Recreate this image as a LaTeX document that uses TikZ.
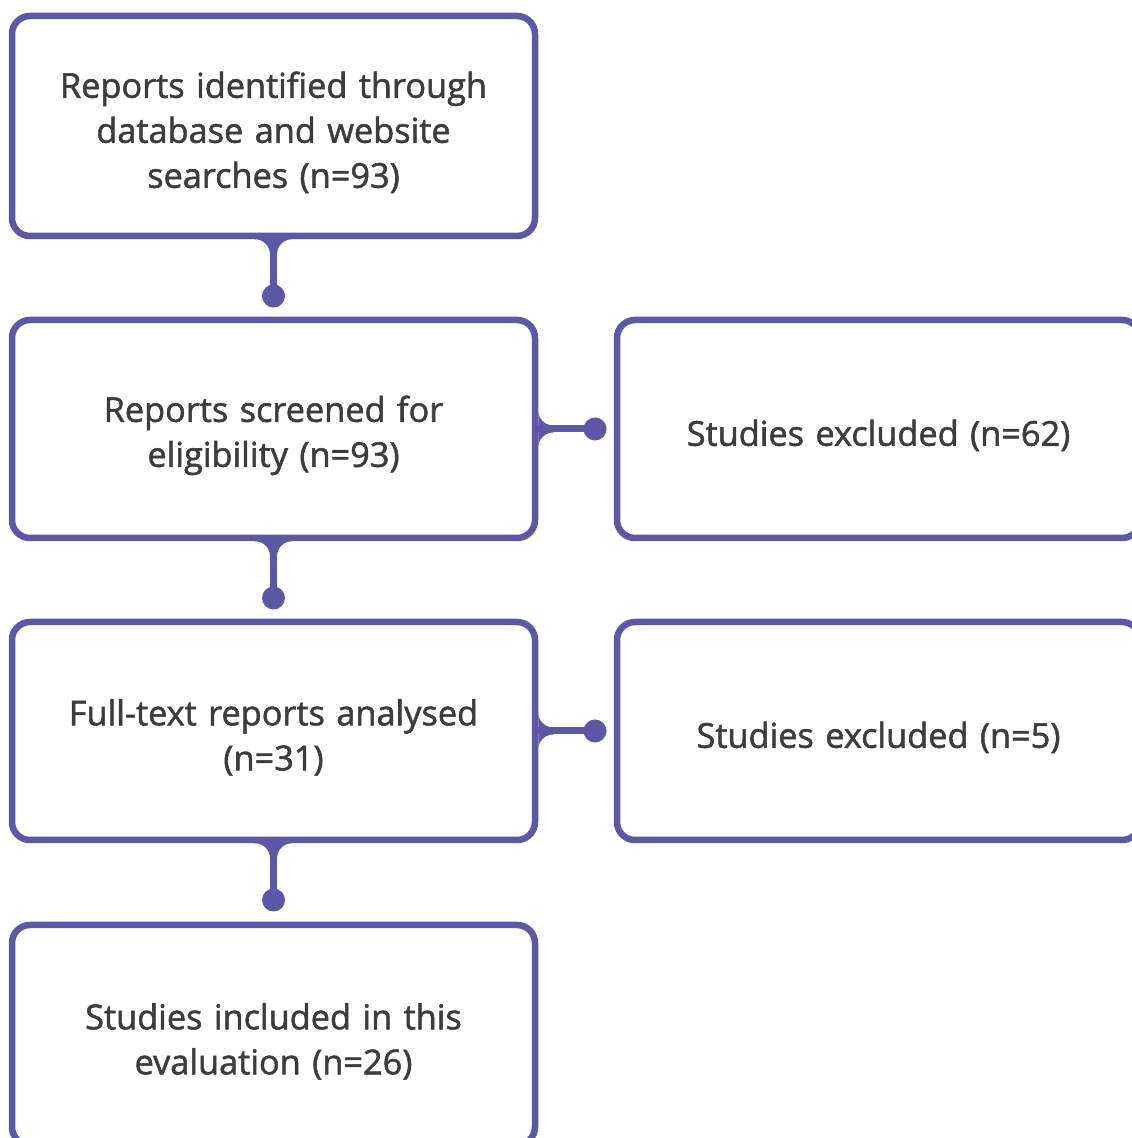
\documentclass[tikz,border=0pt]{standalone}
\usepackage{fontspec}
\setmainfont{Open Sans}[FakeBold=1.5]
\usetikzlibrary{positioning}
\definecolor{flowpurple}{RGB}{94,87,165}
\definecolor{flowtext}{RGB}{60,60,60}
\tikzset{
  stagebox/.style={draw=flowpurple, line width=6.5pt, rounded corners=18pt,
    minimum width=523, minimum height=220, inner sep=0pt,
    text width=500pt, align=center, text=flowtext, text height=39pt,
    font=\fontsize{34.3}{45}\selectfont},
  joindot/.style={circle, fill=flowpurple, minimum size=23pt, inner sep=0pt},
  joinline/.style={draw=flowpurple, line width=7pt},
  pics/fillet/.style={code={
    \fill[flowpurple] (-18.5,0) arc[start angle=90,end angle=0,radius=15]
      -- (3.5,-15) arc[start angle=180,end angle=90,radius=15] -- cycle;}}
}
\begin{document}
\begin{tikzpicture}[x=1pt,y=1pt]
\useasboundingbox (0,0) rectangle (1132,1138);
\clip (0,0) rectangle (1132,1138);

% left column
\node[stagebox] (ident) at (273.5,1012) {Reports identified through\\database and website\\searches (n=93)};
\node[stagebox, minimum height=218] (screen) at (273.5,709) {Reports screened for\\eligibility (n=93)};
\node[stagebox, minimum height=218] (full) at (273.5,407) {Full-text reports analysed\\(n=31)};
\node[stagebox] (incl) at (273.5,103) {Studies included in this\\evaluation (n=26)};

% right column
\node[stagebox, minimum height=218] (excl1) at (878.5,709) {Studies excluded (n=62)};
\node[stagebox, minimum height=218] (excl2) at (878.5,407) {Studies excluded (n=5)};

% joints
\node[joindot] (d1) at (273.5,842) {};
\node[joindot] (d2) at (273.5,540) {};
\node[joindot] (d3) at (273.5,238) {};
\node[joindot] (d4) at (595,709) {};
\node[joindot] (d5) at (595,407) {};

\draw[joinline] (ident.south) -- (d1.center);
\draw[joinline] (screen.south) -- (d2.center);
\draw[joinline] (full.south) -- (d3.center);
\draw[joinline] (screen.east) -- (d4.center);
\draw[joinline] (full.east) -- (d5.center);

\pic at (ident.south) {fillet};
\pic at (screen.south) {fillet};
\pic at (full.south) {fillet};
\pic[rotate=90] at (screen.east) {fillet};
\pic[rotate=90] at (full.east) {fillet};
\end{tikzpicture}
\end{document}
